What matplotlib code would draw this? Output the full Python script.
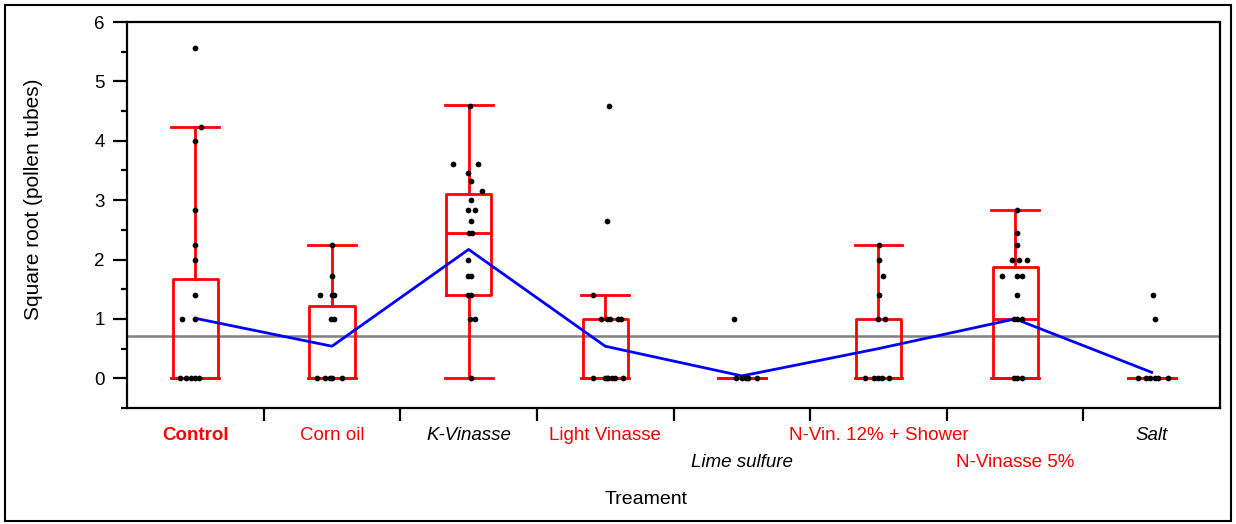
import matplotlib
matplotlib.use("Agg")
import numpy as np
from matplotlib import pyplot as plt
from matplotlib.patches import Rectangle
from matplotlib.ticker import MultipleLocator

plt.rcParams['font.family'] = ['Liberation Sans', 'DejaVu Sans']

categories = ["Control", "Corn oil", "K-Vinasse", "Light Vinasse", "Lime sulfure",
              "N-Vin. 12% + Shower", "N-Vinasse 5%", "Salt"]

# box statistics
whislo = [0, 0, 0, 0, 0, 0, 0, 0]
q1 = [0, 0, 1.40, 0, 0, 0, 0, 0]
med = [0, 0, 2.45, 0, 0, 0, 1.0, 0]
q3 = [1.68, 1.21, 3.10, 1.0, 0, 1.0, 1.87, 0]
whishi = [4.24, 2.24, 4.60, 1.40, 0, 2.24, 2.83, 0]

# group means (blue line) and grand mean (grey line)
means = [1.01, 0.54, 2.17, 0.54, 0.04, 0.50, 1.00, 0.10]
grand_mean = 0.71

# raw points: value and horizontal jitter (fraction of a category)
pts_y = [
    [5.57, 4.24, 4.0, 2.83, 2.24, 2.0, 1.41, 1.0, 1.0, 0, 0, 0, 0, 0],
    [2.24, 1.73, 1.41, 1.41, 1.41, 1.0, 1.0, 0, 0, 0, 0, 0],
    [4.58, 3.61, 3.61, 3.46, 3.32, 3.16, 3.0, 2.83, 2.83, 2.65, 2.45, 2.45,
     2.0, 1.73, 1.73, 1.41, 1.41, 1.0, 1.0, 0],
    [4.58, 2.65, 1.41, 1.0, 1.0, 1.0, 1.0, 1.0, 0, 0, 0, 0, 0, 0, 0],
    [1.0, 0, 0, 0, 0, 0],
    [2.24, 2.0, 1.73, 1.41, 1.0, 1.0, 0, 0, 0, 0, 0],
    [2.83, 2.45, 2.24, 2.0, 2.0, 2.0, 1.73, 1.73, 1.73, 1.41, 1.0, 1.0, 1.0, 0, 0, 0],
    [1.41, 1.0, 0, 0, 0, 0, 0, 0],
]
pts_jit = [
    [0, .04, 0, 0, 0, 0, 0, -.095, 0, -.11, -.07, -.035, 0, .03],
    [0, 0, -.09, 0, .015, -.01, .015, -.11, -.05, -.015, 0, .075],
    [.007, -.117, .066, -.007, .015, .1, .015, -.007, .05, .015, 0, .022,
     -.007, -.007, .015, -.007, .015, .007, .05, .015],
    [.03, .015, -.088, -.03, .015, .036, .095, .117, -.088, 0, .015, .022, .05, .073, .13],
    [-.058, -.044, 0, .03, .044, .11],
    [.007, .007, .03, .007, 0, .044, -.1, -.03, 0, .022, .08],
    [.015, .015, .015, -.022, .03, .088, -.095, .015, .05, .015, -.007, .015, .05, -.007, .015, .05],
    [.007, .022, -.1, -.044, -.015, .022, .044, .117],
]

# label styling
lab_color = ['red', 'red', 'black', 'red', 'black', 'red', 'red', 'black']
lab_style = ['normal', 'normal', 'italic', 'normal', 'italic', 'normal', 'normal', 'italic']
lab_weight = ['bold'] + ['normal'] * 7
lab_row = [0, 0, 0, 0, 1, 0, 1, 0]

fig = plt.figure(figsize=(12.36, 5.24), dpi=100)
ax = fig.add_axes([0.1028, 0.2214, 0.8843, 0.7366])

pos = np.arange(len(categories))
stats = []
for i in range(len(categories)):
    stats.append(dict(whislo=whislo[i], q1=q1[i], med=med[i], q3=q3[i], whishi=whishi[i], fliers=[]))

red = dict(color='red', linewidth=2.0)
ax.bxp(stats, positions=pos, widths=0.33, capwidths=0.35, showfliers=False,
       boxprops=red, whiskerprops=red, capprops=red, medianprops=red,
       manage_ticks=False, zorder=2)

ax.axhline(grand_mean, color='#808080', lw=1.8, zorder=1)
ax.plot(pos, means, color='blue', lw=2.0, zorder=3)

for i in range(len(categories)):
    xs = pos[i] + np.array(pts_jit[i])
    ax.scatter(xs, pts_y[i], s=17, color='black', zorder=4, linewidths=0)

ax.set_xlim(-0.5, len(categories) - 0.5)
ax.set_ylim(-0.5, 6.0)
ax.yaxis.set_major_locator(MultipleLocator(1))
ax.yaxis.set_minor_locator(MultipleLocator(0.5))
ax.tick_params(axis='y', which='major', length=10, width=1.6, pad=6, labelsize=13.5)
ax.tick_params(axis='y', which='minor', length=4.5, width=1.6)

ax.set_xticks(pos[:-1] + 0.5)
ax.set_xticklabels([])
ax.tick_params(axis='x', which='major', length=9, width=1.6)

for sp in ax.spines.values():
    sp.set_linewidth(1.6)

trans = ax.get_xaxis_transform()
for i, name in enumerate(categories):
    y = -0.07 - 0.07 * lab_row[i]
    ax.text(pos[i], y, name, transform=trans, ha='center', va='center',
            color=lab_color[i], fontstyle=lab_style[i], fontweight=lab_weight[i],
            fontsize=13.5)

ax.text(0.475, -0.238, "Treament", transform=ax.transAxes, ha='center', va='center', fontsize=14)
ax.set_ylabel("Square root (pollen tubes)", fontsize=15)
ax.yaxis.set_label_coords(-0.077, 0.541)

fig.patches.append(Rectangle((0.004, 0.005), 0.992, 0.986, transform=fig.transFigure,
                             fill=False, edgecolor='black', lw=1.5))

fig.savefig("out.png", dpi=100)
